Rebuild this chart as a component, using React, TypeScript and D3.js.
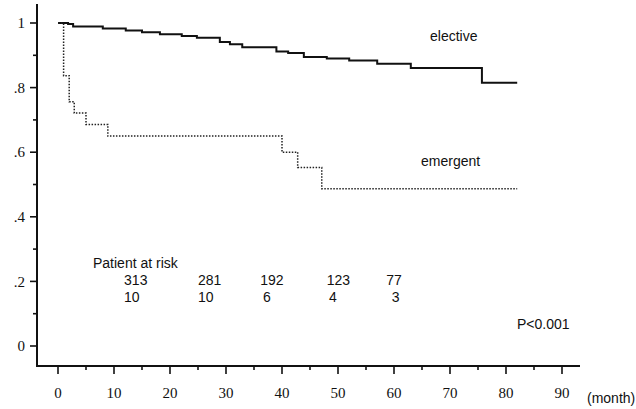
import React from "react";
import * as d3 from "d3";

// Kaplan-Meier steps (months, survival)
const electiveMonths = [0, 1.8, 2.7, 8.0, 12.1, 15, 18.2, 22.1, 24.8, 28.9, 30.7, 32.9, 39, 41.1, 43.9, 48, 52, 57, 63, 75.7, 82];
const electiveSurv = [1, 0.997, 0.989, 0.983, 0.977, 0.971, 0.965, 0.96, 0.954, 0.941, 0.934, 0.925, 0.912, 0.907, 0.895, 0.89, 0.884, 0.874, 0.861, 0.815, 0.815];

const emergentMonths = [0, 1, 2, 2.9, 5, 8.9, 40, 42.8, 47.1, 82];
const emergentSurv = [1, 0.837, 0.756, 0.721, 0.686, 0.65, 0.6, 0.553, 0.487, 0.487];

const xTicks = [0, 10, 20, 30, 40, 50, 60, 70, 80, 90];
const xMinor = [5, 15, 25, 35, 45, 55, 65, 75, 85];
const yTicks = [0, 0.2, 0.4, 0.6, 0.8, 1];
const yTickLabels = ["0", ".2", ".4", ".6", ".8", "1"];
const yMinor = [0.1, 0.3, 0.5, 0.7, 0.9];

// patients at risk: text start month for each row
const riskElective = ["313", "281", "192", "123", "77"];
const riskElectiveAt = [11.8, 25.0, 36.1, 48.0, 58.6];
const riskEmergent = ["10", "10", "6", "4", "3"];
const riskEmergentAt = [11.8, 25.0, 36.6, 48.4, 59.6];

const W = 636;
const H = 409;

export default function App() {
  const x = d3.scaleLinear().domain([0, 90]).range([58, 562]);
  const y = d3.scaleLinear().domain([0, 1]).range([346, 23]);

  const axisX = 37;
  const axisY = 366;

  const line = d3
    .line<[number, number]>()
    .x((d) => x(d[0]))
    .y((d) => y(d[1]))
    .curve(d3.curveStepAfter);

  const elective = electiveMonths.map((m, i) => [m, electiveSurv[i]] as [number, number]);
  const emergent = emergentMonths.map((m, i) => [m, emergentSurv[i]] as [number, number]);

  const sans = "'Liberation Sans', Arial, sans-serif";
  const serif = "'Liberation Serif', 'Times New Roman', serif";

  return (
    <svg
      width={W}
      height={H}
      style={{ position: "absolute", left: 0, top: 0, background: "#fff" }}
    >
      {/* axes */}
      <line x1={axisX} x2={axisX} y1={4} y2={axisY + 1} stroke="#111" strokeWidth={2} />
      <line x1={axisX - 1} x2={580} y1={axisY} y2={axisY} stroke="#111" strokeWidth={2} />

      {yTicks.map((t, i) => (
        <g key={"yt" + t}>
          <line x1={axisX - 7} x2={axisX} y1={y(t)} y2={y(t)} stroke="#111" strokeWidth={1.6} />
          <text
            x={25}
            y={y(t)}
            dy="0.35em"
            textAnchor="end"
            fontFamily={serif}
            fontSize={15}
            fill="#111"
          >
            {yTickLabels[i]}
          </text>
        </g>
      ))}
      {yMinor.map((t) => (
        <line key={"ym" + t} x1={axisX - 4} x2={axisX} y1={y(t)} y2={y(t)} stroke="#111" strokeWidth={1.6} />
      ))}

      {xTicks.map((t) => (
        <g key={"xt" + t}>
          <line x1={x(t)} x2={x(t)} y1={axisY} y2={axisY + 8} stroke="#111" strokeWidth={1.6} />
          <text
            x={x(t)}
            y={398}
            textAnchor="middle"
            fontFamily={serif}
            fontSize={15}
            fill="#111"
          >
            {t}
          </text>
        </g>
      ))}
      {xMinor.map((t) => (
        <line key={"xm" + t} x1={x(t)} x2={x(t)} y1={axisY} y2={axisY + 4} stroke="#111" strokeWidth={1.6} />
      ))}

      <text x={587} y={403} fontFamily={sans} fontSize={14} fill="#111">
        (month)
      </text>

      {/* curves */}
      <path d={line(elective) || ""} fill="none" stroke="#111" strokeWidth={2} />
      <path
        d={line(emergent) || ""}
        fill="none"
        stroke="#222"
        strokeWidth={1.5}
        strokeDasharray="1.5 1.5"
      />

      <text x={430} y={41} fontFamily={sans} fontSize={14} fill="#111">
        elective
      </text>
      <text x={421} y={166} fontFamily={sans} fontSize={14} fill="#111">
        emergent
      </text>

      {/* patients at risk */}
      <text x={93} y={268} fontFamily={sans} fontSize={14} fill="#111">
        Patient at risk
      </text>
      {riskElective.map((v, i) => (
        <text key={"re" + i} x={x(riskElectiveAt[i])} y={285} fontFamily={sans} fontSize={14} fill="#111">
          {v}
        </text>
      ))}
      {riskEmergent.map((v, i) => (
        <text key={"rm" + i} x={x(riskEmergentAt[i])} y={302} fontFamily={sans} fontSize={14} fill="#111">
          {v}
        </text>
      ))}

      <text x={517} y={329} fontFamily={sans} fontSize={14} fill="#111">
        P&lt;0.001
      </text>
    </svg>
  );
}
